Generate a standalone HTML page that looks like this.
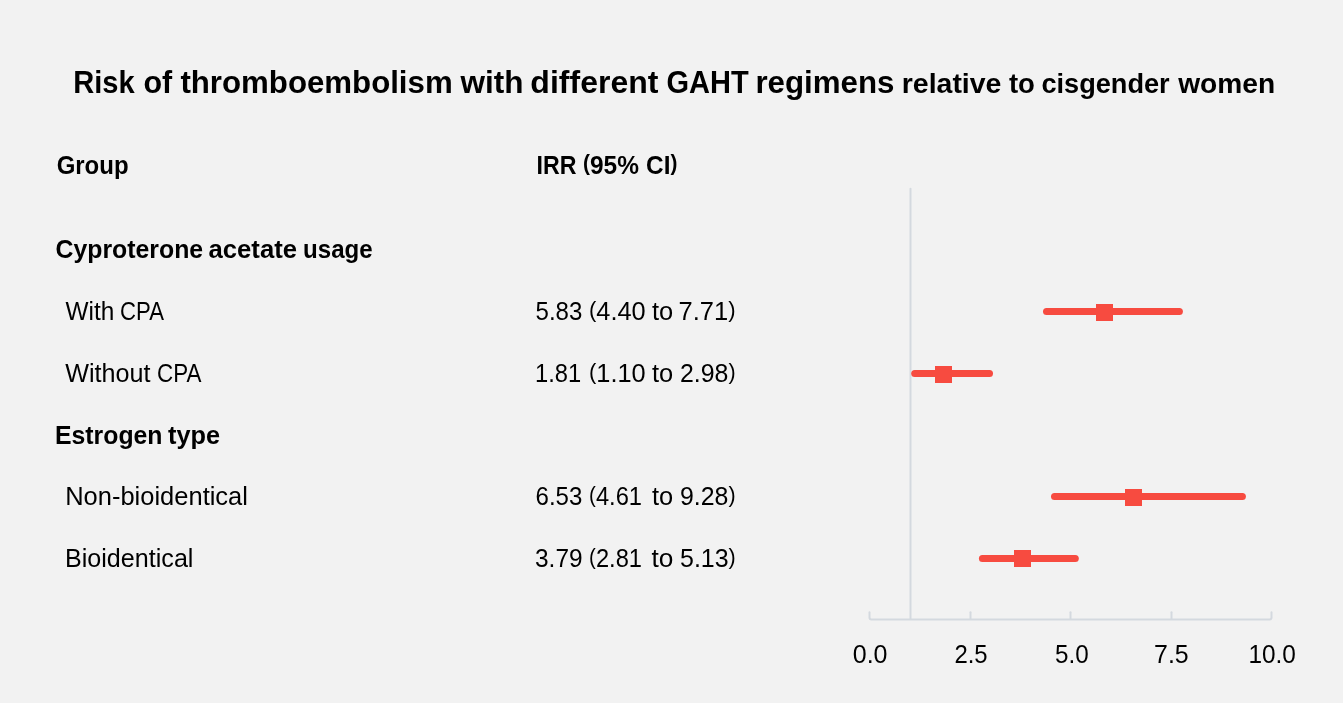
<!DOCTYPE html>
<html><head><meta charset="utf-8"><style>
html,body{margin:0;padding:0;background:#f2f2f2;width:1343px;height:703px;overflow:hidden}
svg{display:block;will-change:transform}
text{font-family:"Liberation Sans",sans-serif;fill:#000000}
</style></head><body>
<svg width="1343" height="703" viewBox="0 0 1343 703">
<rect width="1343" height="703" fill="#f2f2f2"/>
<path d="M869.5 612.2 V617.6 Q869.5 619.6 871.5 619.6 H1269.5 Q1271.5 619.6 1271.5 617.6 V612.2" fill="none" stroke="#d4d9df" stroke-width="2" stroke-linecap="round" stroke-linejoin="round"/>
<line x1="970.5" y1="612.2" x2="970.5" y2="619" stroke="#d4d9df" stroke-width="2" stroke-linecap="round"/>
<line x1="1070.5" y1="612.2" x2="1070.5" y2="619" stroke="#d4d9df" stroke-width="2" stroke-linecap="round"/>
<line x1="1171.5" y1="612.2" x2="1171.5" y2="619" stroke="#d4d9df" stroke-width="2" stroke-linecap="round"/>
<line x1="910.5" y1="188.7" x2="910.5" y2="619" stroke="#d4d9df" stroke-width="2" stroke-linecap="round"/>
<line x1="1046.50" y1="311.5" x2="1179.40" y2="311.5" stroke="#f74b40" stroke-width="7" stroke-linecap="round"/>
<rect x="1096" y="304" width="17" height="17" fill="#f74b40"/>
<line x1="914.70" y1="373.5" x2="989.50" y2="373.5" stroke="#f74b40" stroke-width="7" stroke-linecap="round"/>
<rect x="935" y="366" width="17" height="17" fill="#f74b40"/>
<line x1="1054.50" y1="496.5" x2="1242.40" y2="496.5" stroke="#f74b40" stroke-width="7" stroke-linecap="round"/>
<rect x="1125" y="489" width="17" height="17" fill="#f74b40"/>
<line x1="982.40" y1="558.5" x2="1075.30" y2="558.5" stroke="#f74b40" stroke-width="7" stroke-linecap="round"/>
<rect x="1014" y="550" width="17" height="17" fill="#f74b40"/>
<text id="t1a" x="73.17" y="93.20" font-weight="700" font-size="31.5" textLength="61.43" lengthAdjust="spacingAndGlyphs">Risk</text>
<text id="t1b" x="143.41" y="93.20" font-weight="700" font-size="31.5" textLength="28.76" lengthAdjust="spacingAndGlyphs">of</text>
<text id="t1c" x="180.40" y="93.20" font-weight="700" font-size="31.5" textLength="272.27" lengthAdjust="spacingAndGlyphs">thromboembolism</text>
<text id="t1d" x="460.58" y="93.20" font-weight="700" font-size="31.5" textLength="63.01" lengthAdjust="spacingAndGlyphs">with</text>
<text id="t1e" x="530.38" y="93.20" font-weight="700" font-size="31.5" textLength="128.02" lengthAdjust="spacingAndGlyphs">different</text>
<text id="t1f" x="666.48" y="93.20" font-weight="700" font-size="31.5" textLength="82.17" lengthAdjust="spacingAndGlyphs">GAHT</text>
<text id="t1g" x="755.42" y="93.20" font-weight="700" font-size="31.5" textLength="139.04" lengthAdjust="spacingAndGlyphs">regimens</text>
<text id="t2a" x="901.79" y="93.20" font-weight="700" font-size="28" textLength="99.63" lengthAdjust="spacingAndGlyphs">relative</text>
<text id="t2b" x="1008.96" y="93.20" font-weight="700" font-size="28" textLength="25.98" lengthAdjust="spacingAndGlyphs">to</text>
<text id="t2c" x="1041.42" y="93.20" font-weight="700" font-size="28" textLength="128.27" lengthAdjust="spacingAndGlyphs">cisgender</text>
<text id="t2d" x="1178.19" y="93.20" font-weight="700" font-size="28" textLength="96.98" lengthAdjust="spacingAndGlyphs">women</text>
<text id="h1" x="56.65" y="174.00" font-weight="700" font-size="25.5" textLength="71.91" lengthAdjust="spacingAndGlyphs">Group</text>
<text id="h2a" x="536.62" y="174.00" font-weight="700" font-size="25.5" textLength="39.95" lengthAdjust="spacingAndGlyphs">IRR</text>
<text id="h2b" x="583.03" y="174.00" font-weight="700" font-size="25.5" textLength="55.90" lengthAdjust="spacingAndGlyphs"><tspan font-size="21.8" dy="-3.7">(</tspan><tspan dy="3.7">95%</tspan></text>
<text id="h2c" x="646.07" y="174.00" font-weight="700" font-size="25.5" textLength="31.25" lengthAdjust="spacingAndGlyphs">CI<tspan font-size="21.8" dy="-3.7">)</tspan></text>
<text id="g1a" x="55.51" y="257.70" font-weight="700" font-size="25.5" textLength="147.60" lengthAdjust="spacingAndGlyphs">Cyproterone</text>
<text id="g1b" x="208.49" y="257.70" font-weight="700" font-size="25.5" textLength="88.54" lengthAdjust="spacingAndGlyphs">acetate</text>
<text id="g1c" x="303.07" y="257.70" font-weight="700" font-size="25.5" textLength="69.62" lengthAdjust="spacingAndGlyphs">usage</text>
<text id="r1a" x="65.51" y="319.80" font-weight="400" font-size="25.5" textLength="48.77" lengthAdjust="spacingAndGlyphs">With</text>
<text id="r1b" x="120.05" y="319.80" font-weight="400" font-size="25.5" textLength="43.88" lengthAdjust="spacingAndGlyphs">CPA</text>
<text id="c1a" x="535.53" y="320.00" font-weight="400" font-size="25.2" textLength="46.77" lengthAdjust="spacingAndGlyphs">5.83</text>
<text id="c1b" x="589.00" y="320.00" font-weight="400" font-size="25.2" textLength="56.61" lengthAdjust="spacingAndGlyphs"><tspan font-size="21.8" dy="-3.1">(</tspan><tspan dy="3.1">4.40</tspan></text>
<text id="c1c" x="651.99" y="320.00" font-weight="400" font-size="25.2" textLength="21.23" lengthAdjust="spacingAndGlyphs">to</text>
<text id="c1d" x="678.49" y="320.00" font-weight="400" font-size="25.2" textLength="57.03" lengthAdjust="spacingAndGlyphs">7.71<tspan font-size="21.8" dy="-3.1">)</tspan></text>
<text id="r2a" x="65.25" y="381.80" font-weight="400" font-size="25.5" textLength="85.28" lengthAdjust="spacingAndGlyphs">Without</text>
<text id="r2b" x="157.12" y="381.80" font-weight="400" font-size="25.5" textLength="44.38" lengthAdjust="spacingAndGlyphs">CPA</text>
<text id="c2a" x="535.07" y="382.00" font-weight="400" font-size="25.2" textLength="46.14" lengthAdjust="spacingAndGlyphs">1.81</text>
<text id="c2b" x="589.00" y="382.00" font-weight="400" font-size="25.2" textLength="56.61" lengthAdjust="spacingAndGlyphs"><tspan font-size="21.8" dy="-3.1">(</tspan><tspan dy="3.1">1.10</tspan></text>
<text id="c2c" x="651.99" y="382.00" font-weight="400" font-size="25.2" textLength="21.23" lengthAdjust="spacingAndGlyphs">to</text>
<text id="c2d" x="680.00" y="382.00" font-weight="400" font-size="25.2" textLength="55.58" lengthAdjust="spacingAndGlyphs">2.98<tspan font-size="21.8" dy="-3.1">)</tspan></text>
<text id="g2a" x="55.03" y="443.80" font-weight="700" font-size="25.5" textLength="107.46" lengthAdjust="spacingAndGlyphs">Estrogen</text>
<text id="g2b" x="168.00" y="443.80" font-weight="700" font-size="25.5" textLength="52.05" lengthAdjust="spacingAndGlyphs">type</text>
<text id="r3" x="65.19" y="504.60" font-weight="400" font-size="25.5" textLength="182.77" lengthAdjust="spacingAndGlyphs">Non-bioidentical</text>
<text id="c3a" x="535.53" y="505.00" font-weight="400" font-size="25.2" textLength="46.78" lengthAdjust="spacingAndGlyphs">6.53</text>
<text id="c3b" x="589.08" y="505.00" font-weight="400" font-size="25.2" textLength="52.89" lengthAdjust="spacingAndGlyphs"><tspan font-size="21.8" dy="-3.1">(</tspan><tspan dy="3.1">4.61</tspan></text>
<text id="c3c" x="651.99" y="505.00" font-weight="400" font-size="25.2" textLength="21.23" lengthAdjust="spacingAndGlyphs">to</text>
<text id="c3d" x="680.00" y="505.00" font-weight="400" font-size="25.2" textLength="55.58" lengthAdjust="spacingAndGlyphs">9.28<tspan font-size="21.8" dy="-3.1">)</tspan></text>
<text id="r4" x="65.00" y="566.60" font-weight="400" font-size="25.5" textLength="128.43" lengthAdjust="spacingAndGlyphs">Bioidentical</text>
<text id="c4a" x="534.99" y="567.00" font-weight="400" font-size="25.2" textLength="47.61" lengthAdjust="spacingAndGlyphs">3.79</text>
<text id="c4b" x="589.09" y="567.00" font-weight="400" font-size="25.2" textLength="52.85" lengthAdjust="spacingAndGlyphs"><tspan font-size="21.8" dy="-3.1">(</tspan><tspan dy="3.1">2.81</tspan></text>
<text id="c4c" x="651.50" y="567.00" font-weight="400" font-size="25.2" textLength="21.88" lengthAdjust="spacingAndGlyphs">to</text>
<text id="c4d" x="680.02" y="567.00" font-weight="400" font-size="25.2" textLength="55.78" lengthAdjust="spacingAndGlyphs">5.13<tspan font-size="21.8" dy="-3.1">)</tspan></text>
<text id="a0" x="852.75" y="663.10" font-weight="400" font-size="26" textLength="34.77" lengthAdjust="spacingAndGlyphs">0.0</text>
<text id="a1" x="954.38" y="663.10" font-weight="400" font-size="26" textLength="33.21" lengthAdjust="spacingAndGlyphs">2.5</text>
<text id="a2" x="1055.02" y="663.10" font-weight="400" font-size="26" textLength="33.69" lengthAdjust="spacingAndGlyphs">5.0</text>
<text id="a3" x="1154.05" y="663.10" font-weight="400" font-size="26" textLength="34.64" lengthAdjust="spacingAndGlyphs">7.5</text>
<text id="a4" x="1248.46" y="663.00" font-weight="400" font-size="26" textLength="47.44" lengthAdjust="spacingAndGlyphs">10.0</text>
</svg>
</body></html>
